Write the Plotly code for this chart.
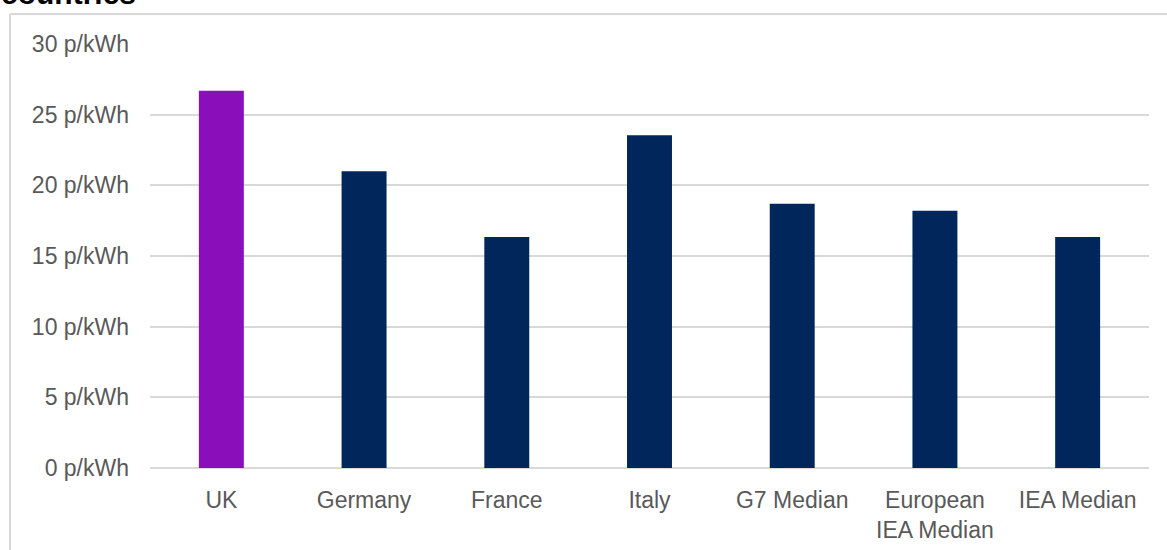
import plotly.graph_objects as go

categories = ["UK", "Germany", "France", "Italy", "G7 Median", "European<br>IEA Median", "IEA Median"]
prices = [26.7, 21.0, 16.35, 23.55, 18.7, 18.2, 16.35]
bar_colors = ["#8B0EBB", "#00265C", "#00265C", "#00265C", "#00265C", "#00265C", "#00265C"]
tick_values = [0, 5, 10, 15, 20, 25, 30]
tick_labels = [f"{v} p/kWh" for v in tick_values]
title_text = "countries"

W, H = 1167, 550
L, R, T, B = 150, 18, 44, 82
pw, ph = W - L - R, H - T - B

def px_x(x):
    return (x - L) / pw

def px_y(y):
    return (H - B - y) / ph

fig = go.Figure(go.Bar(
    x=categories, y=prices, marker=dict(color=bar_colors, line=dict(width=0)),
    width=0.315, hoverinfo="x+y",
))

grid = "#D9D9D9"
fig.update_layout(
    width=W, height=H,
    margin=dict(l=L, r=R, t=T, b=B, autoexpand=False),
    paper_bgcolor="white", plot_bgcolor="white",
    showlegend=False,
    font=dict(family="Liberation Sans, Arial, sans-serif", size=23, color="#595959"),
    xaxis=dict(showgrid=False, showline=False, zeroline=False, ticks="", automargin=False,
               tickfont=dict(size=23, color="#595959"), ticklabelstandoff=16),
    yaxis=dict(range=[0, 30], tickvals=tick_values, ticktext=tick_labels, automargin=False,
               showgrid=True, gridcolor=grid, gridwidth=1.5,
               zeroline=True, zerolinecolor=grid, zerolinewidth=1.5,
               showline=False, ticks="", ticklabelstandoff=20,
               tickfont=dict(size=23, color="#595959")),
    shapes=[
        dict(type="line", xref="paper", yref="paper",
             x0=px_x(10), x1=px_x(W + 5), y0=px_y(14), y1=px_y(14),
             line=dict(color=grid, width=2)),
        dict(type="line", xref="paper", yref="paper",
             x0=px_x(10), x1=px_x(10), y0=px_y(14), y1=px_y(H + 5),
             line=dict(color=grid, width=2)),
    ],
    annotations=[
        dict(text="<b>" + title_text + "</b>", xref="paper", yref="paper",
             x=px_x(-1), y=px_y(12.5), xanchor="left", yanchor="bottom",
             showarrow=False, font=dict(size=30, color="#000000",
                                        family="Liberation Sans, Arial, sans-serif")),
    ],
)

fig.write_html("out.html")
